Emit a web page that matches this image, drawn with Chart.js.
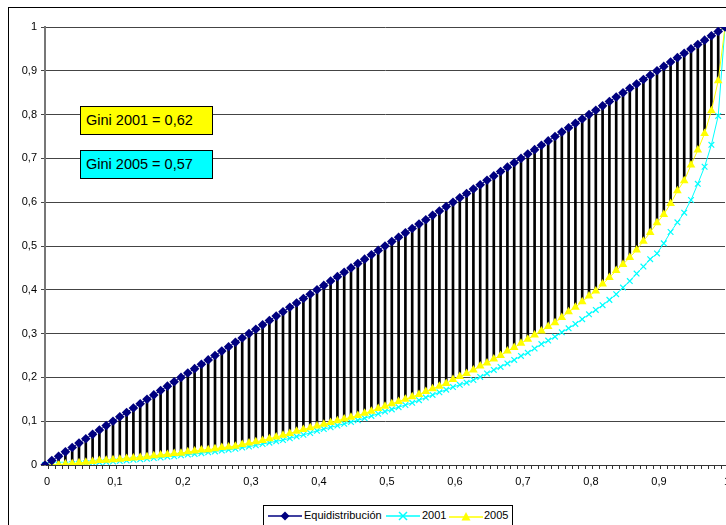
<!DOCTYPE html>
<html>
<head>
<meta charset="utf-8">
<script src="https://cdn.jsdelivr.net/npm/chart.js@4"></script>
<style>
  body { margin: 0; overflow: hidden; background: #fff; font-family: "Liberation Sans", Arial, sans-serif; }
  #marco { position: absolute; left: 8px; top: 7px; width: 800px; height: 600px; border: 1px solid #000; }
  #contenedor { position: absolute; left: 0; top: 0; width: 740px; height: 525px; }
  .gini { position: absolute; left: 80px; border: 1px solid #000;
          font-size: 14.5px; line-height: 27px; padding-left: 5px; box-sizing: border-box; width: 133px; height: 29px; }
  #leyenda { position: absolute; left: 263px; top: 505px; width: 248px; height: 30px; border: 1px solid #000;
             background: #fff; font-size: 11px; white-space: nowrap; }
  #leyenda span { position: absolute; top: 3px; }
  #leyenda svg { position: absolute; top: 4px; }
</style>
</head>
<body>
<div id="marco"></div>
<div id="contenedor"><canvas id="grafico-lorenz"></canvas></div>
<div class="gini" style="top:106px;background:#ffff00;">Gini 2001 = 0,62</div>
<div class="gini" style="top:150px;background:#00ffff;">Gini 2005 = 0,57</div>
<div id="leyenda">
  <svg style="left:4px" width="34" height="12"><line x1="0" y1="6" x2="34" y2="6" stroke="#000080" stroke-width="1.5"/><polygon points="17,1.5 21.5,6 17,10.5 12.5,6" fill="#000080"/></svg>
  <span style="left:40px">Equidistribución</span>
  <svg style="left:122px" width="34" height="12"><line x1="0" y1="6" x2="34" y2="6" stroke="#00ffff" stroke-width="1.5"/><path d="M13,2 L21,10 M21,2 L13,10" stroke="#00ffff" stroke-width="1.5"/></svg>
  <span style="left:158px">2001</span>
  <svg style="left:185px" width="34" height="12"><line x1="0" y1="7" x2="34" y2="7" stroke="#ffff00" stroke-width="1.5"/><polygon points="17,2 21.5,10.5 12.5,10.5" fill="#ffff00"/></svg>
  <span style="left:220px">2005</span>
</div>
<script>
const cuantiles = [
  0, 0.01, 0.02, 0.03, 0.04, 0.05, 0.06, 0.07, 0.08, 0.09,
  0.1, 0.11, 0.12, 0.13, 0.14, 0.15, 0.16, 0.17, 0.18, 0.19,
  0.2, 0.21, 0.22, 0.23, 0.24, 0.25, 0.26, 0.27, 0.28, 0.29,
  0.3, 0.31, 0.32, 0.33, 0.34, 0.35, 0.36, 0.37, 0.38, 0.39,
  0.4, 0.41, 0.42, 0.43, 0.44, 0.45, 0.46, 0.47, 0.48, 0.49,
  0.5, 0.51, 0.52, 0.53, 0.54, 0.55, 0.56, 0.57, 0.58, 0.59,
  0.6, 0.61, 0.62, 0.63, 0.64, 0.65, 0.66, 0.67, 0.68, 0.69,
  0.7, 0.71, 0.72, 0.73, 0.74, 0.75, 0.76, 0.77, 0.78, 0.79,
  0.8, 0.81, 0.82, 0.83, 0.84, 0.85, 0.86, 0.87, 0.88, 0.89,
  0.9, 0.91, 0.92, 0.93, 0.94, 0.95, 0.96, 0.97, 0.98, 0.99,
  1
];

const equidistribucion = [
  0, 0.01, 0.02, 0.03, 0.04, 0.05, 0.06, 0.07, 0.08, 0.09,
  0.1, 0.11, 0.12, 0.13, 0.14, 0.15, 0.16, 0.17, 0.18, 0.19,
  0.2, 0.21, 0.22, 0.23, 0.24, 0.25, 0.26, 0.27, 0.28, 0.29,
  0.3, 0.31, 0.32, 0.33, 0.34, 0.35, 0.36, 0.37, 0.38, 0.39,
  0.4, 0.41, 0.42, 0.43, 0.44, 0.45, 0.46, 0.47, 0.48, 0.49,
  0.5, 0.51, 0.52, 0.53, 0.54, 0.55, 0.56, 0.57, 0.58, 0.59,
  0.6, 0.61, 0.62, 0.63, 0.64, 0.65, 0.66, 0.67, 0.68, 0.69,
  0.7, 0.71, 0.72, 0.73, 0.74, 0.75, 0.76, 0.77, 0.78, 0.79,
  0.8, 0.81, 0.82, 0.83, 0.84, 0.85, 0.86, 0.87, 0.88, 0.89,
  0.9, 0.91, 0.92, 0.93, 0.94, 0.95, 0.96, 0.97, 0.98, 0.99,
  1
];

const lorenz2001 = [
  0, 0, 0.001, 0.001, 0.002, 0.003, 0.004, 0.005, 0.006, 0.007,
  0.008, 0.009, 0.010, 0.012, 0.013, 0.014, 0.016, 0.017, 0.019, 0.020,
  0.022, 0.024, 0.025, 0.027, 0.029, 0.031, 0.033, 0.035, 0.037, 0.040,
  0.042, 0.045, 0.048, 0.051, 0.054, 0.057, 0.061, 0.065, 0.069, 0.073,
  0.078, 0.082, 0.086, 0.090, 0.094, 0.098, 0.102, 0.107, 0.112, 0.117,
  0.122, 0.127, 0.132, 0.137, 0.142, 0.148, 0.154, 0.160, 0.166, 0.172,
  0.178, 0.183, 0.188, 0.194, 0.201, 0.209, 0.217, 0.224, 0.232, 0.240,
  0.249, 0.256, 0.266, 0.276, 0.284, 0.293, 0.303, 0.312, 0.322, 0.333,
  0.344, 0.354, 0.365, 0.377, 0.390, 0.405, 0.420, 0.437, 0.453, 0.470,
  0.483, 0.506, 0.532, 0.554, 0.576, 0.605, 0.642, 0.681, 0.731, 0.797,
  1
];

const lorenz2005 = [
  0, 0, 0.001, 0.002, 0.003, 0.005, 0.006, 0.008, 0.010, 0.011,
  0.012, 0.013, 0.015, 0.016, 0.017, 0.019, 0.021, 0.023, 0.024, 0.026,
  0.027, 0.030, 0.032, 0.034, 0.035, 0.037, 0.040, 0.041, 0.043, 0.047,
  0.050, 0.053, 0.056, 0.060, 0.064, 0.068, 0.072, 0.077, 0.081, 0.085,
  0.089, 0.093, 0.097, 0.101, 0.105, 0.109, 0.113, 0.118, 0.123, 0.129,
  0.134, 0.140, 0.145, 0.150, 0.156, 0.161, 0.168, 0.174, 0.180, 0.186,
  0.195, 0.202, 0.209, 0.217, 0.226, 0.233, 0.242, 0.250, 0.260, 0.268,
  0.278, 0.287, 0.297, 0.306, 0.316, 0.325, 0.337, 0.350, 0.360, 0.373,
  0.386, 0.397, 0.413, 0.428, 0.444, 0.458, 0.474, 0.491, 0.511, 0.531,
  0.553, 0.572, 0.597, 0.626, 0.649, 0.685, 0.719, 0.757, 0.809, 0.877,
  1
];

const ticksY = [0, 0.1, 0.2, 0.3, 0.4, 0.5, 0.6, 0.7, 0.8, 0.9, 1];

function conComa(v) {
    return String(Math.round(v * 10) / 10).replace(".", ",");
}

function dibujarLorenz() {
    const ctx = document.getElementById("grafico-lorenz").getContext("2d");

    // lineas verticales entre la diagonal y la curva 2005
    const brechas = equidistribucion.map((v, i) => [lorenz2005[i], v]);

    new Chart(ctx, {
        data: {
            labels: cuantiles,
            datasets: [
                {
                    type: "line",
                    label: "Equidistribución",
                    data: equidistribucion,
                    borderColor: "#000080",
                    backgroundColor: "#000080",
                    borderWidth: 1,
                    pointStyle: "rectRot",
                    pointRadius: 4.8,
                    pointBorderWidth: 0,
                    order: 1,
                },
                {
                    type: "line",
                    label: "2001",
                    data: lorenz2001,
                    borderColor: "#00ffff",
                    backgroundColor: "#00ffff",
                    borderWidth: 1,
                    pointStyle: "crossRot",
                    pointRadius: 4,
                    pointBorderWidth: 1.2,
                    order: 3,
                },
                {
                    type: "line",
                    label: "2005",
                    data: lorenz2005,
                    borderColor: "#ffff00",
                    backgroundColor: "#ffff00",
                    borderWidth: 1,
                    pointStyle: "triangle",
                    pointRadius: 5,
                    pointBorderWidth: 0,
                    order: 2,
                },
                {
                    type: "bar",
                    label: "brecha",
                    data: brechas,
                    backgroundColor: "#000000",
                    barThickness: 2,
                    order: 10,
                },
            ],
        },
        options: {
            responsive: false,
            animation: false,
            devicePixelRatio: 1,
            layout: { padding: { left: 0, right: 15, top: 27, bottom: 0 } },
            plugins: {
                legend: { display: false },
                tooltip: { enabled: false },
            },
            scales: {
                x: {
                    type: "category",
                    offset: false,
                    afterFit: (scale) => { scale.height = 60; },
                    grid: {
                        drawOnChartArea: false,
                        drawTicks: true,
                        tickLength: 4,
                        color: "#333333",
                    },
                    border: { color: "#333333" },
                    ticks: {
                        autoSkip: false,
                        maxRotation: 0,
                        padding: 6,
                        labelOffset: 2,
                        color: "#000",
                        font: { family: "Liberation Sans", size: 11 },
                        callback: (value, index) => (index % 10 === 0 ? conComa(cuantiles[index]) : ""),
                    },
                },
                y: {
                    min: 0,
                    max: 1,
                    afterFit: (scale) => { scale.width = 45; },
                    afterBuildTicks: (scale) => { scale.ticks = ticksY.map((v) => ({ value: v })); },
                    grid: {
                        color: "#444444",
                        tickLength: 4,
                    },
                    border: { color: "#777777", width: 2 },
                    ticks: {
                        padding: 4,
                        color: "#000",
                        font: { family: "Liberation Sans", size: 11 },
                        callback: (value) => conComa(value),
                    },
                },
            },
        },
    });
}

const lienzo = document.getElementById("grafico-lorenz");
lienzo.width = 740;
lienzo.height = 525;
dibujarLorenz();
</script>
</body>
</html>
